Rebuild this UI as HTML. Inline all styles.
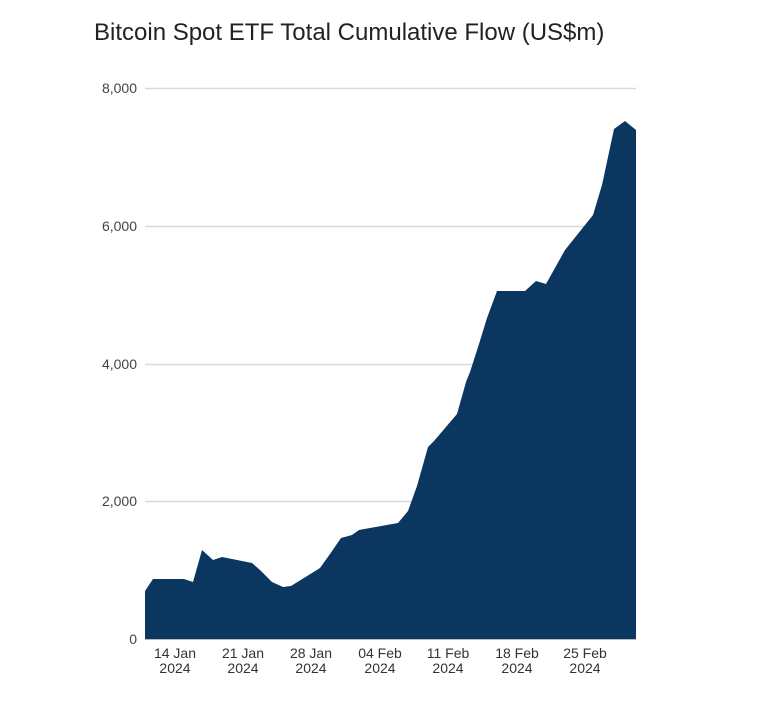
<!DOCTYPE html>
<html><head><meta charset="utf-8"><style>
body{margin:0;background:#fff;width:764px;height:720px;overflow:hidden}
svg{display:block}
text{font-family:"Liberation Sans",Arial,sans-serif}
</style></head><body>
<svg width="764" height="720" viewBox="0 0 764 720">
<text x="94" y="40" font-size="24" fill="#222">Bitcoin Spot ETF Total Cumulative Flow (US$m)</text>
<g stroke="#d9d9d9" stroke-width="1.5">
<line x1="145" y1="88.5" x2="636" y2="88.5"/>
<line x1="145" y1="226.5" x2="636" y2="226.5"/>
<line x1="145" y1="364.5" x2="636" y2="364.5"/>
<line x1="145" y1="501.5" x2="636" y2="501.5"/>
</g>
<g font-size="14" fill="#444" text-anchor="end">
<text x="137" y="93">8,000</text>
<text x="137" y="231">6,000</text>
<text x="137" y="369">4,000</text>
<text x="137" y="506">2,000</text>
<text x="137" y="644">0</text>
</g>
<path fill="#0b365f" d="M145,591 L153,579 L184,579 L193,582 L202,550 L213,560 L222,557 L252,563 L260,570 L272,582 L283,587 L291,586 L320,568 L330,554 L341,538 L352,535 L359,530 L370,528 L398,523 L408,511 L417,486 L428,447 L434,441 L457,414 L466,382 L470,372 L479,344 L487,318 L497,291 L525,291 L536,281 L546,284 L565,250 L593,215 L602,185 L614,129 L625,121 L636,130 L636,639 L145,639 Z"/>
<line x1="145" y1="639.5" x2="636" y2="639.5" stroke="#bbb" stroke-width="1"/>
<g font-size="14" fill="#333" text-anchor="middle">
<text x="175" y="658">14 Jan</text><text x="175" y="673">2024</text>
<text x="243" y="658">21 Jan</text><text x="243" y="673">2024</text>
<text x="311" y="658">28 Jan</text><text x="311" y="673">2024</text>
<text x="380" y="658">04 Feb</text><text x="380" y="673">2024</text>
<text x="448" y="658">11 Feb</text><text x="448" y="673">2024</text>
<text x="517" y="658">18 Feb</text><text x="517" y="673">2024</text>
<text x="585" y="658">25 Feb</text><text x="585" y="673">2024</text>
</g>
</svg>
</body></html>
